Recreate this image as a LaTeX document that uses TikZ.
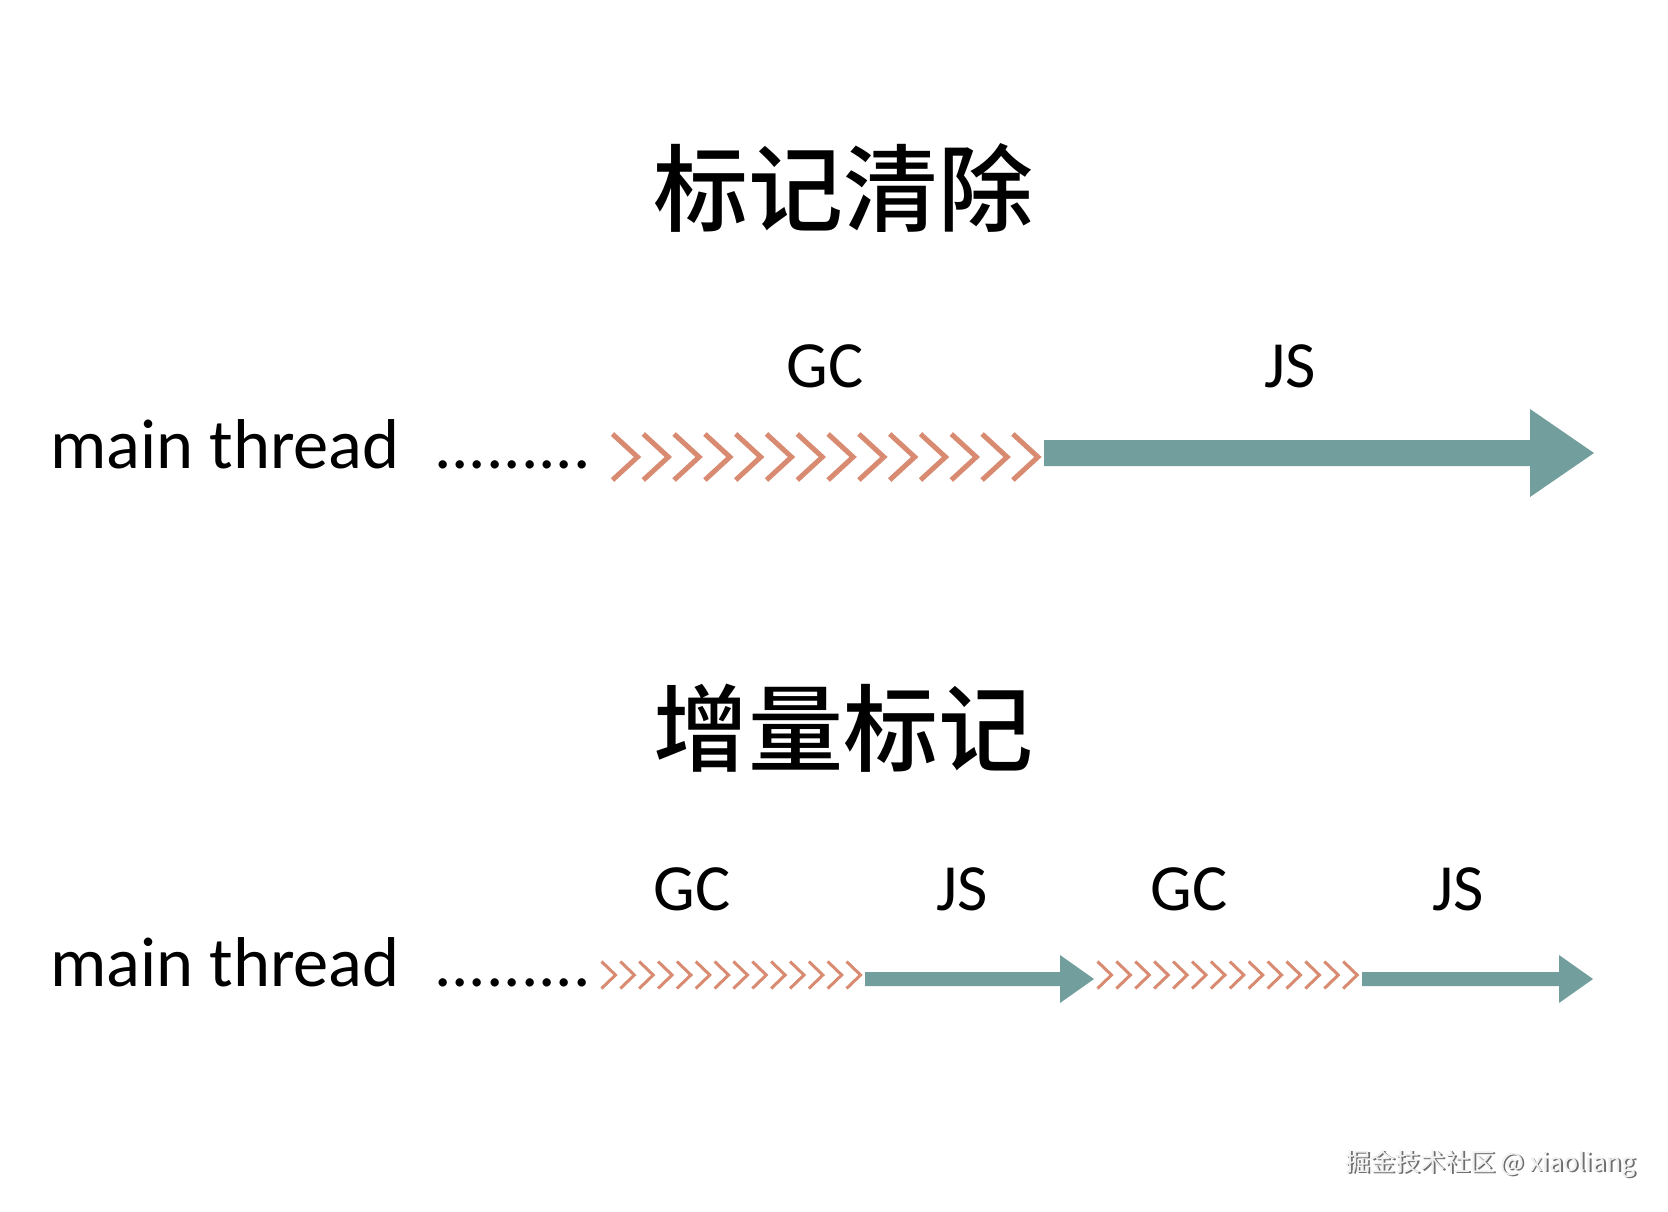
\documentclass[tikz,border=0pt]{standalone}
\usepackage{fontspec}
\setmainfont{Carlito}
\newfontfamily\cjk{Noto Sans CJK SC}
\newfontfamily\cjkt{Noto Sans CJK SC}[UprightFont={* Medium}]
\definecolor{chevc}{RGB}{217,139,114}
\definecolor{tealc}{RGB}{114,158,158}
\definecolor{wmdark}{RGB}{110,110,110}
\definecolor{wmlight}{RGB}{240,240,240}
\tikzset{
  title/.style={font=\cjkt\fontsize{95}{95}\selectfont, inner sep=0pt},
  rowlabel/.style={font=\fontsize{70.5}{70.5}\selectfont, inner sep=0pt, anchor=base west},
  dotrow/.style={font=\fontsize{69}{69}\selectfont, inner sep=0pt, anchor=base west},
  phase/.style={font=\fontsize{66}{66}\selectfont, inner sep=0pt, anchor=base},
  chevbig/.style={draw=chevc, line width=5pt, line join=miter},
  chevsmall/.style={draw=chevc, line width=3pt, line join=miter},
  arrowfill/.style={fill=tealc},
  wm/.style={font=\cjk\fontsize{25}{25}\selectfont, inner sep=0pt, anchor=base west},
}
\begin{document}
\begin{tikzpicture}[x=1pt,y=-1pt]
\useasboundingbox (0,0) rectangle (1668,1212);
\fill[white] (0,0) rectangle (1668,1212);

% titles
\node[title] (t1) at (843,188) {标记清除};
\node[title] (t2) at (843,728) {增量标记};

% row 1
\node[rowlabel] (mt1) at (50,468) {main thread};
\node[dotrow] (d1) at (434,468) {.........};
\node[phase] (gc1) at (825,387) {GC};
\node[phase] (js1) at (1290,387) {JS};
\foreach \i in {0,...,13}
  \draw[chevbig] ({612.5+\i*30.8},434) -- ++(25,23) -- ++(-25,23);
\fill[arrowfill] (1044,440) -- (1530,440) -- (1530,409) -- (1594,453)
  -- (1530,497) -- (1530,466) -- (1044,466) -- cycle;

% row 2
\node[rowlabel] (mt2) at (50,986) {main thread};
\node[dotrow] (d2) at (434,986) {.........};
\node[phase] (gc2) at (692,910) {GC};
\node[phase] (js2) at (962,910) {JS};
\node[phase] (gc3) at (1189,910) {GC};
\node[phase] (js3) at (1458,910) {JS};
\foreach \i in {0,...,13}
  \draw[chevsmall] ({601.5+\i*18.85},961.5) -- ++(14,13.5) -- ++(-14,13.5);
\foreach \i in {0,...,13}
  \draw[chevsmall] ({1097.5+\i*18.9},961.5) -- ++(14,13.5) -- ++(-14,13.5);
\fill[arrowfill] (865,972) -- (1060,972) -- (1060,955) -- (1094,979)
  -- (1060,1003) -- (1060,986) -- (865,986) -- cycle;
\fill[arrowfill] (1362,972) -- (1559,972) -- (1559,955) -- (1593,979)
  -- (1559,1003) -- (1559,986) -- (1362,986) -- cycle;

% watermark
\node[wm, text=wmdark] (wm0) at (1346.8,1172.8) {掘金技术社区 @ xiaoliang};
\node[wm, text=wmlight] (wm1) at (1345,1171) {掘金技术社区 @ xiaoliang};
\end{tikzpicture}
\end{document}
